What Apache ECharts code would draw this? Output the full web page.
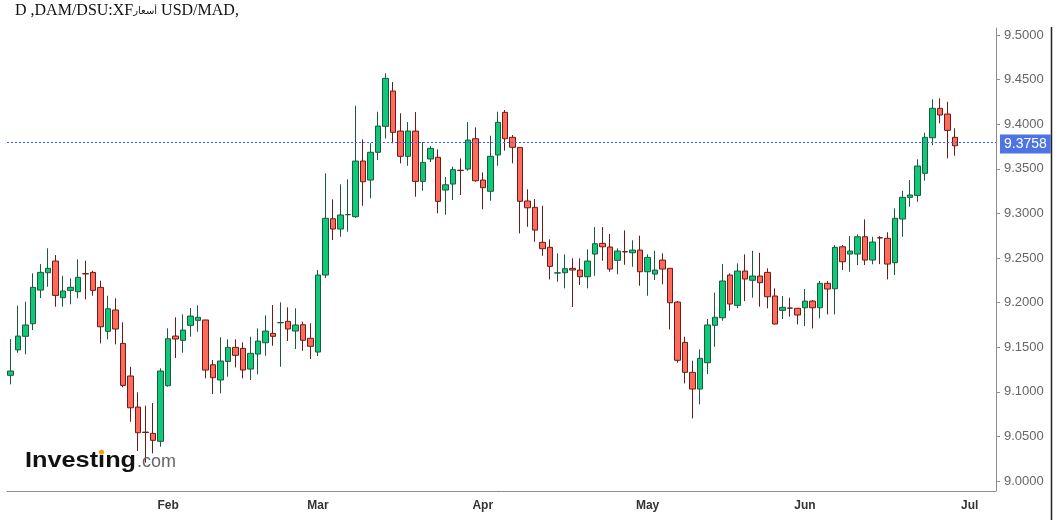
<!DOCTYPE html>
<html>
<head>
<meta charset="utf-8">
<script src="https://cdn.jsdelivr.net/npm/echarts@6/dist/echarts.min.js"></script>
<style>
  html, body { margin: 0; padding: 0; background: #fff; }
  #chart { width: 1060px; height: 520px; }
</style>
</head>
<body>
<div id="chart"></div>
<script>
// trading days, Jan 2 .. Jul 6
const janDays = [2,5,6,7,8,9,12,13,14,15,16,19,20,21,22,23,26,27,28,29,30];
const febDays = [2,3,4,5,6,9,10,11,12,13,16,17,18,19,20,23,24,25,26,27];
const marDays = [2,3,4,5,6,9,10,11,12,13,16,17,18,19,20,23,24,25,26,27,30,31];
const aprDays = [1,2,3,6,7,8,9,10,13,14,15,16,17,20,21,22,23,24,27,28,29,30];
const mayDays = [1,4,5,6,7,8,11,12,13,14,15,18,19,20,21,22,25,26,27,28,29];
const junDays = [1,2,3,4,5,8,9,10,11,12,15,16,17,18,19,22,23,24,25,26,29,30];
const julDays = [1,2,3,6];
const monthNames = ['Jan', 'Feb', 'Mar', 'Apr', 'May', 'Jun', 'Jul'];

const opens = [
  9.1185, 9.1470, 9.1622, 9.1763, 9.2140, 9.2335, 9.2466, 9.2055, 9.2137, 9.2122,
  9.2325, 9.2339, 9.2171, 9.1678, 9.1917, 9.1543, 9.1177, 9.0829, 9.0548, 9.0534,
  9.0445, 9.1068, 9.1625, 9.1577, 9.1745, 9.1801, 9.1805, 9.1303, 9.1132, 9.1341,
  9.1498, 9.1487, 9.1255, 9.1423, 9.1550, 9.1655, 9.1774, 9.1790, 9.1681, 9.1752,
  9.1600, 9.1446, 9.2309, 9.2940, 9.2825, 9.2985, 9.2963, 9.3587, 9.3374, 9.3685,
  9.3976, 9.4372, 9.3923, 9.3640, 9.3923, 9.3359, 9.3610, 9.3629, 9.3262, 9.3329,
  9.3484, 9.3497, 9.3837, 9.3374, 9.3248, 9.3655, 9.4133, 9.3853, 9.3740, 9.3139,
  9.3068, 9.2676, 9.2620, 9.2331, 9.2335, 9.2384, 9.2365, 9.2290, 9.2544, 9.2664,
  9.2623, 9.2474, 9.2572, 9.2559, 9.2589, 9.2346, 9.2320, 9.2477, 9.2384, 9.2006,
  9.1554, 9.1218, 9.1031, 9.1326, 9.1745, 9.1830, 9.2309, 9.1969, 9.2354, 9.2250,
  9.2298, 9.2339, 9.2074, 9.1913, 9.1939, 9.1936, 9.1942, 9.2017, 9.1942, 9.2216,
  9.2155, 9.2626, 9.2544, 9.2544, 9.2738, 9.2477, 9.2727, 9.2721, 9.2447, 9.2937,
  9.3180, 9.3202, 9.3449, 9.3848, 9.4178, 9.4114, 9.3853
];
const closes = [
  9.1233, 9.1625, 9.1749, 9.2171, 9.2339, 9.2384, 9.2081, 9.2130, 9.2171, 9.2283,
  9.2322, 9.2137, 9.1729, 9.1931, 9.1704, 9.1072, 9.0821, 9.0541, 9.0544, 9.0456,
  9.1233, 9.1595, 9.1592, 9.1692, 9.1849, 9.1835, 9.1244, 9.1158, 9.1345, 9.1498,
  9.1409, 9.1244, 9.1431, 9.1569, 9.1681, 9.1622, 9.1776, 9.1704, 9.1749, 9.1577,
  9.1510, 9.2309, 9.2945, 9.2825, 9.2982, 9.2987, 9.3587, 9.3355, 9.3685, 9.3979,
  9.4514, 9.3909, 9.3640, 9.3923, 9.3359, 9.3572, 9.3729, 9.3135, 9.3321, 9.3490,
  9.3480, 9.3822, 9.3366, 9.3288, 9.3640, 9.4021, 9.3837, 9.3741, 9.3135, 9.3063,
  9.2813, 9.2604, 9.2406, 9.2334, 9.2380, 9.2365, 9.2290, 9.2466, 9.2660, 9.2626,
  9.2376, 9.2578, 9.2568, 9.2589, 9.2346, 9.2507, 9.2365, 9.2376, 9.1998, 9.1353,
  9.1218, 9.1031, 9.1375, 9.1749, 9.1835, 9.2242, 9.1984, 9.2354, 9.2264, 9.2298,
  9.2223, 9.2066, 9.1760, 9.1947, 9.1937, 9.1861, 9.2017, 9.1942, 9.2216, 9.2152,
  9.2620, 9.2458, 9.2578, 9.2738, 9.2477, 9.2679, 9.2725, 9.2432, 9.2945, 9.3180,
  9.3206, 9.3531, 9.3853, 9.4178, 9.4103, 9.3931, 9.3758
];
const lows = [
  9.1084, 9.1438, 9.1420, 9.1692, 9.2051, 9.2178, 9.1954, 9.1954, 9.1981, 9.2048,
  9.2036, 9.2077, 9.1543, 9.1588, 9.1532, 9.1050, 9.0664, 9.0336, 9.0205, 9.0310,
  9.0384, 9.1057, 9.1378, 9.1438, 9.1617, 9.1673, 9.1151, 9.0975, 9.0983, 9.1169,
  9.1274, 9.1151, 9.1132, 9.1196, 9.1404, 9.1516, 9.1281, 9.1569, 9.1480, 9.1460,
  9.1367, 9.1401, 9.2275, 9.2701, 9.2738, 9.2795, 9.2948, 9.3086, 9.3169, 9.3598,
  9.3841, 9.3786, 9.3561, 9.3534, 9.3187, 9.3254, 9.3576, 9.3001, 9.2985, 9.3150,
  9.3206, 9.3478, 9.3355, 9.3046, 9.3142, 9.3534, 9.3703, 9.3561, 9.2776, 9.2850,
  9.2682, 9.2525, 9.2260, 9.2234, 9.2160, 9.1950, 9.2197, 9.2160, 9.2301, 9.2469,
  9.2346, 9.2317, 9.2424, 9.2402, 9.2189, 9.2077, 9.2253, 9.2205, 9.1700, 9.1326,
  9.1095, 9.0702, 9.0859, 9.1199, 9.1505, 9.1797, 9.1909, 9.1936, 9.2017, 9.2055,
  9.1954, 9.1936, 9.1755, 9.1816, 9.1842, 9.1756, 9.1737, 9.1710, 9.1824, 9.1868,
  9.1868, 9.2365, 9.2346, 9.2421, 9.2421, 9.2429, 9.2432, 9.2260, 9.2309, 9.2738,
  9.3075, 9.3130, 9.3366, 9.3766, 9.4010, 9.3617, 9.3647
];
const highs = [
  9.1592, 9.1965, 9.2010, 9.2328, 9.2432, 9.2608, 9.2533, 9.2301, 9.2272, 9.2485,
  9.2469, 9.2357, 9.2245, 9.2077, 9.2048, 9.1779, 9.1281, 9.0994, 9.0844, 9.0874,
  9.1263, 9.1711, 9.1835, 9.1868, 9.1939, 9.1969, 9.1808, 9.1356, 9.1611, 9.1588,
  9.1588, 9.1554, 9.1617, 9.1711, 9.1857, 9.1973, 9.2003, 9.1947, 9.1936, 9.1786,
  9.1768, 9.2365, 9.3449, 9.3158, 9.3326, 9.3382, 9.4207, 9.3830, 9.3786, 9.4140,
  9.4570, 9.4473, 9.4122, 9.4024, 9.4136, 9.3800, 9.3755, 9.3718, 9.3408, 9.3523,
  9.3617, 9.4024, 9.3965, 9.3460, 9.3871, 9.4140, 9.4159, 9.3879, 9.3745, 9.3270,
  9.3160, 9.3086, 9.2709, 9.2552, 9.2541, 9.2496, 9.2496, 9.2597, 9.2847, 9.2847,
  9.2769, 9.2608, 9.2810, 9.2698, 9.2750, 9.2541, 9.2581, 9.2552, 9.2386, 9.2017,
  9.1617, 9.1348, 9.1476, 9.1816, 9.2111, 9.2432, 9.2328, 9.2440, 9.2541, 9.2581,
  9.2559, 9.2384, 9.2160, 9.2074, 9.2055, 9.1940, 9.2152, 9.2029, 9.2242, 9.2242,
  9.2645, 9.2645, 9.2746, 9.2765, 9.2933, 9.2738, 9.2746, 9.2788, 9.3057, 9.3254,
  9.3374, 9.3606, 9.3904, 9.4279, 9.4290, 9.4252, 9.3954
];
const lastPrice = 9.3758;
const yTicks = { min: 9.0, max: 9.50785, step: 0.05 };

// build categories + month start indexes
const dates = [];
const monthStart = {};
[janDays, febDays, marDays, aprDays, mayDays, junDays, julDays].forEach((days, m) => {
  days.forEach((d, k) => {
    if (k === 0) monthStart[dates.length] = monthNames[m];
    dates.push('2026-' + String(m + 1).padStart(2, '0') + '-' + String(d).padStart(2, '0'));
  });
});
const isMonthTick = (idx) => idx > 0 && monthStart[idx] !== undefined;

const candles = opens.map((o, i) => [o, closes[i], lows[i], highs[i]]);

const chart = echarts.init(document.getElementById('chart'));
chart.setOption({
  animation: false,
  backgroundColor: '#fff',
  grid: { left: 7, right: 64, top: 28, bottom: 39 },
  xAxis: {
    type: 'category',
    data: dates,
    offset: 10,
    axisLine: { lineStyle: { color: '#8c8c8c', width: 1 } },
    axisTick: { alignWithLabel: true, interval: isMonthTick, length: 5, lineStyle: { color: '#777' } },
    axisLabel: {
      interval: isMonthTick,
      formatter: (v, idx) => monthStart[idx] || '',
      color: '#333',
      fontSize: 12,
      fontWeight: 'bold',
      fontFamily: 'Liberation Sans',
      margin: 9
    },
    splitLine: { show: false }
  },
  yAxis: {
    type: 'value',
    position: 'right',
    min: yTicks.min,
    max: yTicks.max,
    interval: yTicks.step,
    scale: true,
    axisLine: { show: true, lineStyle: { color: '#8c8c8c' } },
    axisTick: { show: true, length: 4, lineStyle: { color: '#8c8c8c' } },
    axisLabel: {
      showMaxLabel: false,
      formatter: v => v.toFixed(4),
      color: '#666',
      fontSize: 13,
      fontFamily: 'Liberation Sans',
      margin: 8
    },
    splitLine: { show: false }
  },
  series: [{
    type: 'candlestick',
    data: candles,
    barWidth: 6,
    itemStyle: {
      color: '#0fc879',
      color0: '#ff6a5b',
      borderColor: '#1c5a3c',
      borderColor0: '#6a1d18',
      borderWidth: 1
    },
    markLine: {
      silent: true,
      symbol: 'none',
      data: [{ yAxis: lastPrice }],
      lineStyle: { color: '#2f5cff', type: [2, 2], width: 1.2 },
      label: {
        position: 'end',
        formatter: lastPrice.toFixed(4),
        backgroundColor: '#4e74e4',
        color: '#fff',
        fontSize: 14,
        fontFamily: 'Liberation Sans',
        padding: [3, 4, 2, 4],
        lineHeight: 14,
        distance: 4,
        offset: [0, 2]
      }
    }
  }],
  graphic: [
    {
      type: 'text', left: 15, top: 3,
      style: {
        text: '{a|D ,DAM/DSU:XF}{b|أسعار}{a| USD/MAD,}',
        rich: {
          a: { font: '16px "Liberation Serif"', fill: '#111' },
          b: { font: '10px "DejaVu Sans"', fill: '#111' }
        }
      }
    },
    { type: 'line', shape: { x1: 996.5, y1: 481, x2: 996.5, y2: 491 }, style: { stroke: '#8c8c8c', lineWidth: 1 } },
    { type: 'line', shape: { x1: 1051.5, y1: 27, x2: 1051.5, y2: 520 }, style: { stroke: '#222', lineWidth: 1.5 } },
    {
      type: 'text', x: 25, y: 461, scaleX: 1.15,
      style: { text: 'Investing', font: 'bold 22px "Liberation Sans"', fill: '#111', verticalAlign: 'middle' },
      z: 10
    },
    {
      type: 'text', x: 137, y: 462,
      style: { text: '.com', font: '18px "Liberation Sans"', fill: '#666', verticalAlign: 'middle' },
      z: 10
    },
    { type: 'circle', shape: { cx: 101.5, cy: 452, r: 2.6 }, style: { fill: '#f5a31a' }, z: 11 }
  ]
});
</script>
</body>
</html>
